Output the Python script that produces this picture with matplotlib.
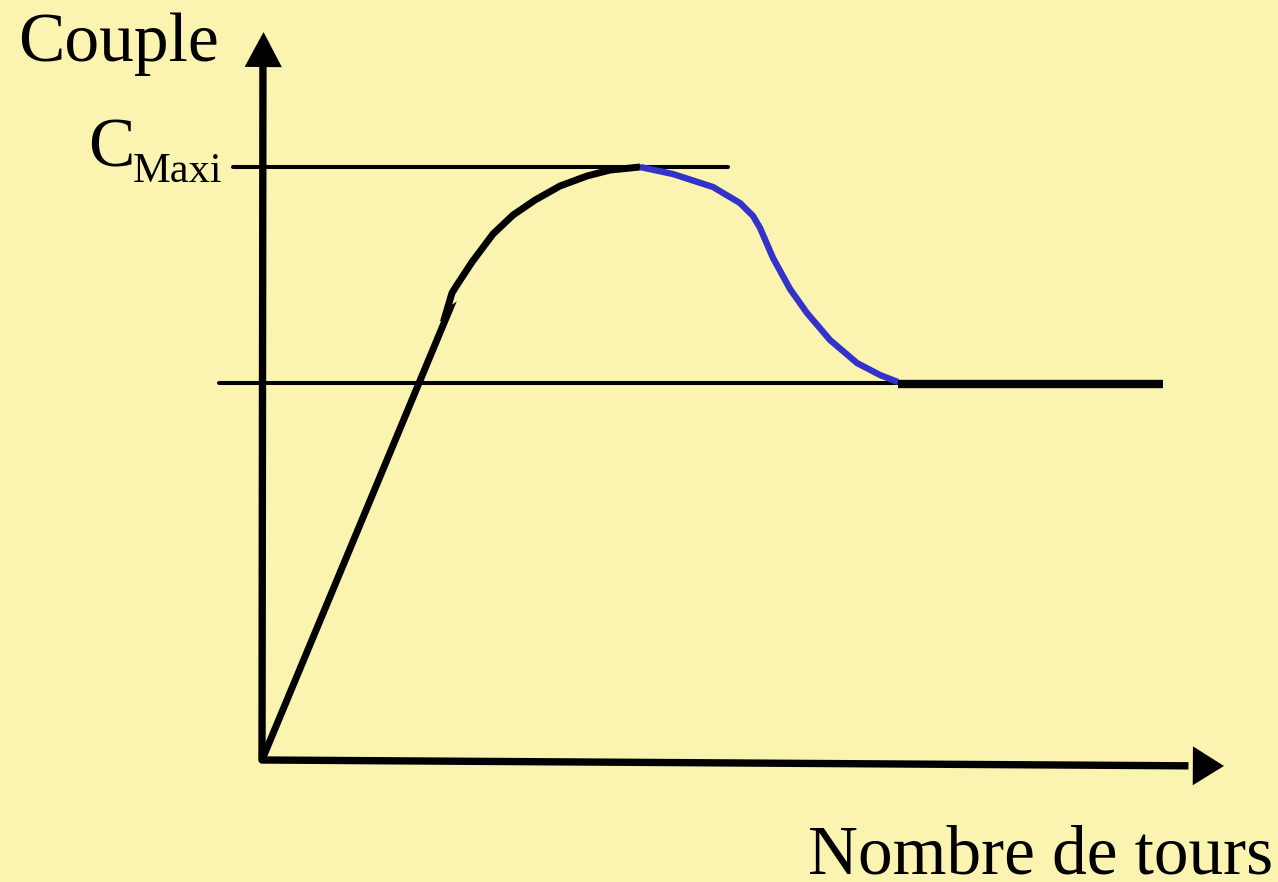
import matplotlib
matplotlib.use("Agg")
import matplotlib.pyplot as plt

# ---- data (arbitrary units: regime = nombre de tours, couple = torque) ----
regime_montee = [0.0, 19.48, 19.17, 19.79, 20.31, 21.88, 24.06, 26.15, 28.44,
                 31.04, 33.85, 36.25, 39.38]
couple_montee = [0.0, 61.68, 61.40, 64.15, 65.25, 68.41, 72.25, 74.86, 76.92,
                 78.85, 80.22, 81.04, 81.46]
regime_descente = [39.38, 42.81, 46.98, 49.79, 51.15, 51.88, 53.23, 55.00,
                   56.77, 59.17, 61.98, 64.38, 66.25]
couple_descente = [81.46, 80.49, 78.71, 76.51, 74.73, 73.08, 68.96, 64.70,
                   61.40, 57.69, 54.53, 52.88, 51.92]
regime_palier = [66.25, 93.85]
couple_palier = [51.7, 51.7]
c_maxi = 81.46
c_maxi_span = [-3.0, 48.5]
c_palier_span = [-4.48, 66.25]

BG = "#FBF3B0"
BLUE = "#3333CC"
FONT = ["Liberation Serif", "DejaVu Serif"]

fig = plt.figure(figsize=(12.78, 8.82), dpi=100, facecolor=BG)
ax = fig.add_axes([0, 0, 1, 1])
ax.set_facecolor(BG)
ax.set_xlim(-27.29, 105.83)
ax.set_ylim(-16.76, 104.40)
ax.axis("off")

# reference lines
ax.plot(c_maxi_span, [c_maxi, c_maxi], color="black", lw=2.9, solid_capstyle="round")
ax.plot(c_palier_span, [couple_palier[0] + 0.05] * 2, color="black", lw=2.9,
        solid_capstyle="round")

# axes (shafts)
ax.plot([0.1, 0.0, 96.5], [96.0, 0.0, -0.8], color="black", lw=5.3,
        solid_joinstyle="round", solid_capstyle="butt")
# arrow heads
ax.annotate("", xy=(0.16, 100.0), xytext=(0.1, 90.0),
            arrowprops=dict(arrowstyle="-|>,head_length=1.26,head_width=0.67",
                            mutation_scale=20, lw=0, color="black",
                            shrinkA=0, shrinkB=0))
ax.annotate("", xy=(100.2, -0.82), xytext=(90.0, -0.75),
            arrowprops=dict(arrowstyle="-|>,head_length=1.12,head_width=0.70",
                            mutation_scale=20, lw=0, color="black",
                            shrinkA=0, shrinkB=0))

# curve
ax.plot(regime_montee, couple_montee, color="black", lw=5.0,
        solid_joinstyle="miter", solid_capstyle="butt")
ax.plot(regime_descente, couple_descente, color=BLUE, lw=4.6,
        solid_joinstyle="round", solid_capstyle="butt")
ax.plot(regime_palier, couple_palier, color="black", lw=6.0, solid_capstyle="butt")

# texts
ax.text(-25.42, 96.0, "Couple", family=FONT, fontsize=50, va="baseline", ha="left")
ax.text(56.88, -15.66, "Nombre de tours", family=FONT, fontsize=49.8,
        va="baseline", ha="left")
ax.text(-18.13, 81.46, "C", family=FONT, fontsize=50, va="baseline", ha="left")
ax.text(-13.44, 79.40, "Maxi", family=FONT, fontsize=30.5, va="baseline", ha="left")

fig.savefig("out.png", dpi=100, facecolor=BG)
